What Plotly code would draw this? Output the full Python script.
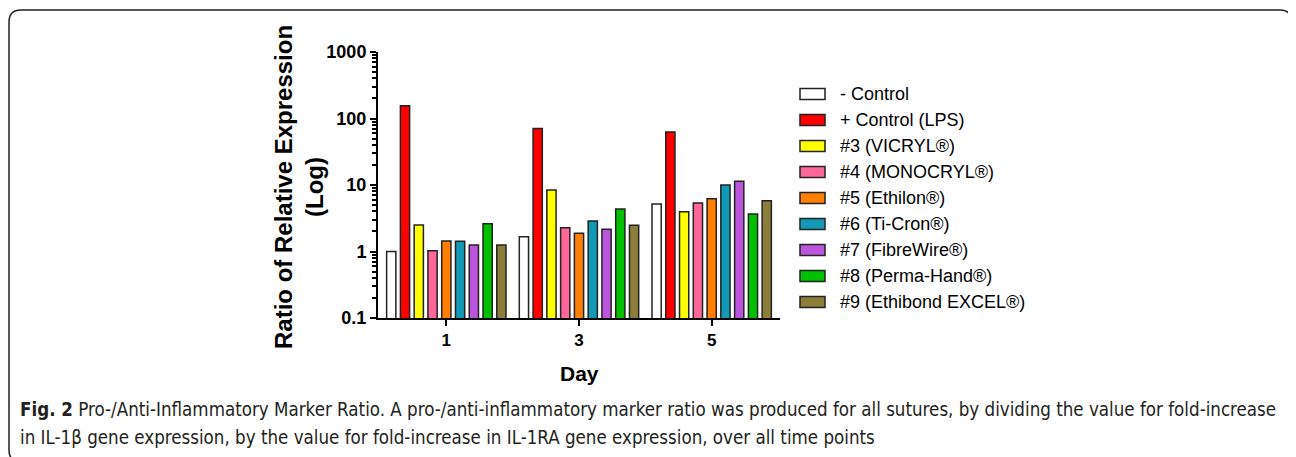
import plotly.graph_objects as go

days = ["1", "3", "5"]
series_names = ["- Control", "+ Control (LPS)", "#3 (VICRYL®)", "#4 (MONOCRYL®)", "#5 (Ethilon®)",
                "#6 (Ti-Cron®)", "#7 (FibreWire®)", "#8 (Perma-Hand®)", "#9 (Ethibond EXCEL®)"]
neg_control = [1.0, 1.67, 5.2]
pos_control = [155, 71, 62.7]
vicryl = [2.5, 8.4, 3.97]
monocryl = [1.03, 2.28, 5.36]
ethilon = [1.44, 1.88, 6.2]
ticron = [1.42, 2.88, 10.0]
fibrewire = [1.25, 2.16, 11.4]
permahand = [2.62, 4.36, 3.66]
ethibond = [1.25, 2.48, 5.8]
series_values = [neg_control, pos_control, vicryl, monocryl, ethilon, ticron, fibrewire, permahand, ethibond]
colors = ["#FFFFFF", "#FF0000", "#FFFF00", "#FF6699", "#FF8000", "#1199B5", "#BB55DD", "#00C000", "#8B7D3A"]

OFF = 8  # page body margin
W, H = 1296 - OFF, 457 - OFF
L, R, T, B = 378, 780, 52, 318  # plot area in screen px

def px(x):
    return (x - L) / (R - L)

def py(y):
    return (B - y) / (B - T)

fig = go.Figure()
for name, vals, c in zip(series_names, series_values, colors):
    fig.add_trace(go.Bar(x=days, y=vals, name=name, marker=dict(color=c, line=dict(color="#222222", width=1.5)),
                         showlegend=False))

minor_vals = []
for dec in [0.1, 1, 10, 100]:
    for k in range(2, 10):
        minor_vals.append(dec * k)

font_b = "Liberation Sans, Arial, sans-serif"
fig.update_layout(
    width=W, height=H,
    margin=dict(l=L - OFF, r=W - (R - OFF), t=T - OFF, b=H - (B - OFF)),
    paper_bgcolor="white", plot_bgcolor="white",
    barmode="group", bargap=0.066, bargroupgap=0.33,
    font=dict(family=font_b, color="black"),
    xaxis=dict(type="category", range=[-0.515, 2.515], showline=True, linecolor="black", linewidth=2,
               ticks="outside", ticklen=6, tickwidth=2, tickcolor="black",
               tickfont=dict(size=17, family=font_b, weight="bold"), showgrid=False, zeroline=False),
    yaxis=dict(type="log", range=[-1, 3], showline=True, linecolor="black", linewidth=2,
               ticks="outside", ticklen=6, tickwidth=2, tickcolor="black",
               tickvals=[0.1, 1, 10, 100, 1000], ticktext=["0.1", "1", "10", "100", "1000"],
               tickfont=dict(size=18, family=font_b, weight="bold"),
               minor=dict(tickvals=minor_vals, ticks="outside", ticklen=4, tickwidth=1.5, tickcolor="black",
                          showgrid=False),
               showgrid=False, zeroline=False),
)

annotations = []
shapes = []
# axis titles
annotations.append(dict(text="<b>Ratio of Relative Expression<br>(Log)</b>", xref="paper", yref="paper",
                        x=px(299), y=py(187), textangle=-90, showarrow=False, xanchor="center", yanchor="middle",
                        font=dict(size=24, family=font_b, color="black")))
annotations.append(dict(text="<b>Day</b>", xref="paper", yref="paper", x=px(579), y=py(373), showarrow=False,
                        xanchor="center", yanchor="middle", font=dict(size=21, family=font_b, color="black")))

# legend
for i, (name, c) in enumerate(zip(series_names, colors)):
    yc = 94 + i * 26
    shapes.append(dict(type="rect", xref="paper", yref="paper", x0=px(800), x1=px(825), y0=py(yc - 5.5),
                       y1=py(yc + 5.5), fillcolor=c, line=dict(color="#222222", width=1.5)))
    annotations.append(dict(text=name, xref="paper", yref="paper", x=px(838), y=py(yc), showarrow=False,
                            xanchor="left", yanchor="middle", font=dict(size=18, family=font_b, color="black")))

# caption
cap_font = "DejaVu Sans Condensed, Open Sans, sans-serif"
annotations.append(dict(text="<b>Fig. 2</b> Pro-/Anti-Inflammatory Marker Ratio. A pro-/anti-inflammatory marker ratio was produced for all sutures, by dividing the value for fold-increase",
                        xref="paper", yref="paper", x=px(18), y=py(410), showarrow=False, xanchor="left",
                        yanchor="middle", font=dict(size=18.6, family=cap_font, color="#231F20")))
annotations.append(dict(text="in IL-1β gene expression, by the value for fold-increase in IL-1RA gene expression, over all time points",
                        xref="paper", yref="paper", x=px(18), y=py(437), showarrow=False, xanchor="left",
                        yanchor="middle", font=dict(size=18.6, family=cap_font, color="#231F20")))

# rounded border
x0, x1, y0, y1, r = 9, 1292, 10, 462, 12
path = (f"M {px(x0 + r)},{py(y0)} L {px(x1 - r)},{py(y0)} Q {px(x1)},{py(y0)} {px(x1)},{py(y0 + r)} "
        f"L {px(x1)},{py(y1 - r)} Q {px(x1)},{py(y1)} {px(x1 - r)},{py(y1)} "
        f"L {px(x0 + r)},{py(y1)} Q {px(x0)},{py(y1)} {px(x0)},{py(y1 - r)} "
        f"L {px(x0)},{py(y0 + r)} Q {px(x0)},{py(y0)} {px(x0 + r)},{py(y0)} Z")
shapes.append(dict(type="path", xref="paper", yref="paper", path=path, line=dict(color="#222222", width=1.5)))

fig.update_layout(annotations=annotations, shapes=shapes)
fig.write_html("out.html")
